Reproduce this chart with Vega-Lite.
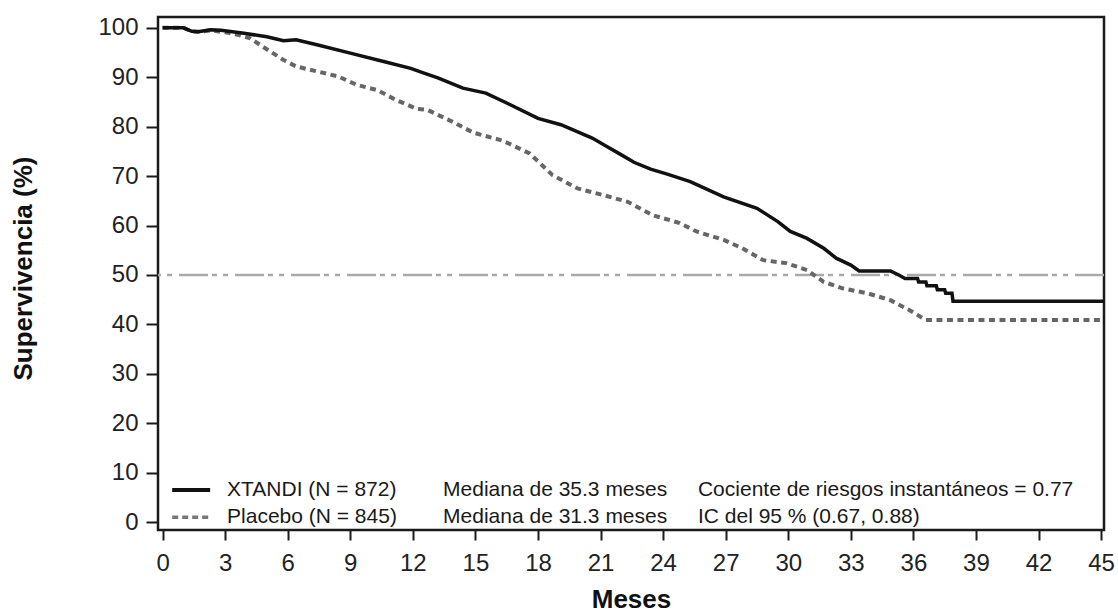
{
  "$schema": "https://vega.github.io/schema/vega-lite/v6.json",
  "autosize": {"type": "none"},
  "width": 946,
  "height": 513,
  "padding": {"left": 158, "top": 17, "right": 14, "bottom": 84},
  "background": "white",
  "config": {
    "view": {"stroke": "#1a1a1a", "strokeWidth": 2.5},
    "font": "Liberation Sans",
    "axis": {"grid": false, "domain": false, "tickColor": "#1a1a1a", "tickWidth": 2, "labelColor": "#222222", "labelFont": "Liberation Sans", "titleFont": "Liberation Sans", "titleColor": "#111111"}
  },
  "datasets": {
    "curves": [
      {"group": "XTANDI", "t": 0, "s": 100},
      {"group": "XTANDI", "t": 1.0, "s": 100},
      {"group": "XTANDI", "t": 1.4, "s": 99.3},
      {"group": "XTANDI", "t": 1.7, "s": 99.2},
      {"group": "XTANDI", "t": 2.3, "s": 99.6},
      {"group": "XTANDI", "t": 2.8, "s": 99.5},
      {"group": "XTANDI", "t": 3.9, "s": 98.9},
      {"group": "XTANDI", "t": 5.0, "s": 98.2},
      {"group": "XTANDI", "t": 5.8, "s": 97.4},
      {"group": "XTANDI", "t": 6.4, "s": 97.6},
      {"group": "XTANDI", "t": 7.4, "s": 96.6},
      {"group": "XTANDI", "t": 9.0, "s": 94.9},
      {"group": "XTANDI", "t": 10.6, "s": 93.2},
      {"group": "XTANDI", "t": 11.9, "s": 91.8},
      {"group": "XTANDI", "t": 12.5, "s": 90.9},
      {"group": "XTANDI", "t": 13.2, "s": 89.9},
      {"group": "XTANDI", "t": 14.4, "s": 87.8},
      {"group": "XTANDI", "t": 15.5, "s": 86.8},
      {"group": "XTANDI", "t": 16.5, "s": 84.8},
      {"group": "XTANDI", "t": 18.0, "s": 81.7},
      {"group": "XTANDI", "t": 19.1, "s": 80.4},
      {"group": "XTANDI", "t": 20.6, "s": 77.7},
      {"group": "XTANDI", "t": 21.3, "s": 76.0},
      {"group": "XTANDI", "t": 22.0, "s": 74.3},
      {"group": "XTANDI", "t": 22.6, "s": 72.8},
      {"group": "XTANDI", "t": 23.4, "s": 71.4},
      {"group": "XTANDI", "t": 24.2, "s": 70.4},
      {"group": "XTANDI", "t": 25.3, "s": 68.9},
      {"group": "XTANDI", "t": 26.9, "s": 65.8},
      {"group": "XTANDI", "t": 28.5, "s": 63.5},
      {"group": "XTANDI", "t": 29.5, "s": 60.8},
      {"group": "XTANDI", "t": 30.1, "s": 58.8},
      {"group": "XTANDI", "t": 30.9, "s": 57.4},
      {"group": "XTANDI", "t": 31.7, "s": 55.4},
      {"group": "XTANDI", "t": 32.3, "s": 53.4},
      {"group": "XTANDI", "t": 33.0, "s": 52.0},
      {"group": "XTANDI", "t": 33.4, "s": 50.8},
      {"group": "XTANDI", "t": 34.9, "s": 50.8},
      {"group": "XTANDI", "t": 35.3, "s": 50.0},
      {"group": "XTANDI", "t": 35.6, "s": 49.3},
      {"group": "XTANDI", "t": 36.2, "s": 49.3},
      {"group": "XTANDI", "t": 36.25, "s": 48.6},
      {"group": "XTANDI", "t": 36.6, "s": 48.6},
      {"group": "XTANDI", "t": 36.65, "s": 47.8},
      {"group": "XTANDI", "t": 37.1, "s": 47.8},
      {"group": "XTANDI", "t": 37.15, "s": 47.0},
      {"group": "XTANDI", "t": 37.5, "s": 47.0},
      {"group": "XTANDI", "t": 37.55, "s": 46.3},
      {"group": "XTANDI", "t": 37.85, "s": 46.3},
      {"group": "XTANDI", "t": 37.9, "s": 44.7},
      {"group": "XTANDI", "t": 45.1, "s": 44.7},
      {"group": "Placebo", "t": 0, "s": 100},
      {"group": "Placebo", "t": 1.0, "s": 100},
      {"group": "Placebo", "t": 1.4, "s": 99.3},
      {"group": "Placebo", "t": 1.7, "s": 99.2},
      {"group": "Placebo", "t": 2.3, "s": 99.5},
      {"group": "Placebo", "t": 3.0, "s": 99.1},
      {"group": "Placebo", "t": 3.6, "s": 98.6},
      {"group": "Placebo", "t": 4.2, "s": 97.9},
      {"group": "Placebo", "t": 4.8, "s": 96.2},
      {"group": "Placebo", "t": 5.8, "s": 93.5},
      {"group": "Placebo", "t": 6.4, "s": 92.2},
      {"group": "Placebo", "t": 7.4, "s": 91.2},
      {"group": "Placebo", "t": 8.4, "s": 90.2},
      {"group": "Placebo", "t": 9.3, "s": 88.5},
      {"group": "Placebo", "t": 10.3, "s": 87.4},
      {"group": "Placebo", "t": 11.2, "s": 85.4},
      {"group": "Placebo", "t": 12.2, "s": 83.6},
      {"group": "Placebo", "t": 12.7, "s": 83.4},
      {"group": "Placebo", "t": 13.9, "s": 81.0},
      {"group": "Placebo", "t": 14.9, "s": 78.8},
      {"group": "Placebo", "t": 16.3, "s": 77.2},
      {"group": "Placebo", "t": 17.6, "s": 74.6},
      {"group": "Placebo", "t": 18.1, "s": 72.6},
      {"group": "Placebo", "t": 18.7, "s": 70.2},
      {"group": "Placebo", "t": 19.9, "s": 67.5},
      {"group": "Placebo", "t": 21.1, "s": 66.2},
      {"group": "Placebo", "t": 22.3, "s": 64.8},
      {"group": "Placebo", "t": 23.5, "s": 62.1},
      {"group": "Placebo", "t": 24.8, "s": 60.5},
      {"group": "Placebo", "t": 25.6, "s": 58.8},
      {"group": "Placebo", "t": 26.9, "s": 57.1},
      {"group": "Placebo", "t": 27.8, "s": 55.4},
      {"group": "Placebo", "t": 28.8, "s": 53.0},
      {"group": "Placebo", "t": 29.9, "s": 52.4},
      {"group": "Placebo", "t": 30.9, "s": 51.0},
      {"group": "Placebo", "t": 31.7, "s": 48.6},
      {"group": "Placebo", "t": 32.6, "s": 47.3},
      {"group": "Placebo", "t": 33.8, "s": 46.3},
      {"group": "Placebo", "t": 34.9, "s": 44.9},
      {"group": "Placebo", "t": 35.8, "s": 42.9},
      {"group": "Placebo", "t": 36.6, "s": 40.9},
      {"group": "Placebo", "t": 45.1, "s": 40.9}
    ]
  },
  "layer": [
    {
      "data": {"values": [{"ref": 50}]},
      "mark": {"type": "rule", "color": "#aaaaaa", "strokeWidth": 2.5, "strokeDash": [29, 7, 5, 6, 5, 4]},
      "encoding": {
        "y": {"field": "ref", "type": "quantitative", "scale": {"domain": [-1.6, 102.2], "nice": false, "zero": false},
          "axis": {"values": [0, 10, 20, 30, 40, 50, 60, 70, 80, 90, 100], "tickSize": 12, "labelFontSize": 24, "labelPadding": 8,
            "title": "Supervivencia (%)", "titleFontSize": 26, "titleFontWeight": "bold", "titleX": -135, "titleY": 251, "titleAngle": -90, "titleAlign": "center", "titleBaseline": "middle"}}
      }
    },
    {
      "data": {"name": "curves"},
      "transform": [{"filter": "datum.group === 'Placebo'"}],
      "mark": {"type": "line", "color": "#666666", "strokeWidth": 4, "strokeDash": [6, 4.5], "clip": true},
      "encoding": {
        "x": {"field": "t", "type": "quantitative", "scale": {"domain": [-0.22, 45.14], "nice": false, "zero": false},
          "axis": {"values": [0, 3, 6, 9, 12, 15, 18, 21, 24, 27, 30, 33, 36, 39, 42, 45], "tickSize": 10, "labelFontSize": 24, "labelPadding": 11,
            "title": "Meses", "titleFontSize": 26, "titleFontWeight": "bold", "titleY": 69, "titleBaseline": "middle"}},
        "y": {"field": "s", "type": "quantitative"}
      }
    },
    {
      "data": {"name": "curves"},
      "transform": [{"filter": "datum.group === 'XTANDI'"}],
      "mark": {"type": "line", "color": "#111111", "strokeWidth": 3.5, "clip": true},
      "encoding": {
        "x": {"field": "t", "type": "quantitative"},
        "y": {"field": "s", "type": "quantitative"}
      }
    },
    {
      "data": {"values": [{"g": "XTANDI"}]},
      "mark": {"type": "rule", "color": "#111111", "strokeWidth": 4},
      "encoding": {"x": {"datum": 0.46}, "x2": {"datum": 2.28}, "y": {"datum": 6.48}}
    },
    {
      "data": {"values": [{"g": "Placebo"}]},
      "mark": {"type": "rule", "color": "#777777", "strokeWidth": 3.5, "strokeDash": [6, 4]},
      "encoding": {"x": {"datum": 0.46}, "x2": {"datum": 2.28}, "y": {"datum": 1.0}}
    },
    {
      "data": {"values": [{"label": "XTANDI (N = 872)"}]},
      "mark": {"type": "text", "align": "left", "baseline": "middle", "fontSize": 21, "color": "#1a1a1a"},
      "encoding": {"x": {"datum": 3.09}, "y": {"datum": 6.48}, "text": {"field": "label"}}
    },
    {
      "data": {"values": [{"label": "Placebo (N = 845)"}]},
      "mark": {"type": "text", "align": "left", "baseline": "middle", "fontSize": 21, "color": "#1a1a1a"},
      "encoding": {"x": {"datum": 3.09}, "y": {"datum": 1.0}, "text": {"field": "label"}}
    },
    {
      "data": {"values": [{"label": "Mediana de 35.3 meses"}]},
      "mark": {"type": "text", "align": "left", "baseline": "middle", "fontSize": 21, "color": "#1a1a1a"},
      "encoding": {"x": {"datum": 13.45}, "y": {"datum": 6.48}, "text": {"field": "label"}}
    },
    {
      "data": {"values": [{"label": "Mediana de 31.3 meses"}]},
      "mark": {"type": "text", "align": "left", "baseline": "middle", "fontSize": 21, "color": "#1a1a1a"},
      "encoding": {"x": {"datum": 13.45}, "y": {"datum": 1.0}, "text": {"field": "label"}}
    },
    {
      "data": {"values": [{"label": "Cociente de riesgos instantáneos = 0.77"}]},
      "mark": {"type": "text", "align": "left", "baseline": "middle", "fontSize": 21, "color": "#1a1a1a"},
      "encoding": {"x": {"datum": 25.67}, "y": {"datum": 6.48}, "text": {"field": "label"}}
    },
    {
      "data": {"values": [{"label": "IC del 95 % (0.67, 0.88)"}]},
      "mark": {"type": "text", "align": "left", "baseline": "middle", "fontSize": 21, "color": "#1a1a1a"},
      "encoding": {"x": {"datum": 25.67}, "y": {"datum": 1.0}, "text": {"field": "label"}}
    }
  ]
}
